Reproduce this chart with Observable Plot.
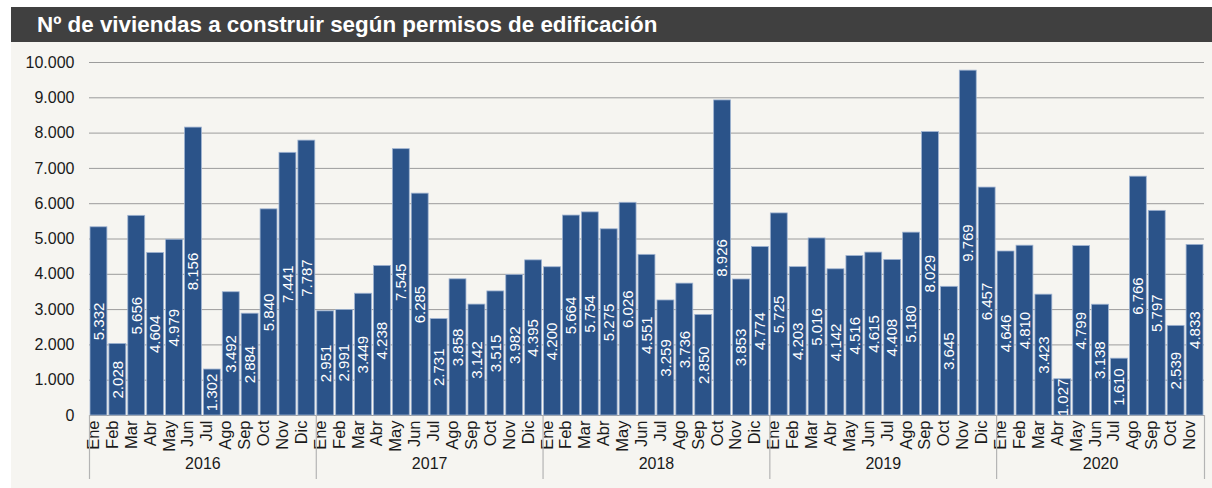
<!DOCTYPE html>
<html>
<head>
<meta charset="utf-8">
<script src="https://cdn.jsdelivr.net/npm/d3@7"></script>
<script src="https://cdn.jsdelivr.net/npm/@observablehq/plot@0.6"></script>
<style>
  html, body { margin: 0; padding: 0; background: #ffffff; }
  body { width: 1212px; height: 488px; overflow: hidden; font-family: "Liberation Sans", Arial, sans-serif; }
  #title { margin: 7px 0 0 11px; width: 1201px; height: 35px; background: #404040; color: #ffffff;
           font-weight: bold; font-size: 22.4px; line-height: 35px; padding-left: 26px; box-sizing: border-box; }
  #chart { margin-left: 11px; width: 1201px; height: 446px; background: #f6f5f1; }
  #chart svg { display: block; }
</style>
</head>
<body>
<div id="title">Nº de viviendas a construir según permisos de edificación</div>
<div id="chart"></div>
<script>
const months = ["Ene","Feb","Mar","Abr","May","Jun","Jul","Ago","Sep","Oct","Nov","Dic"];
const years = [2016, 2017, 2018, 2019, 2020];
const values2016 = [5332, 2028, 5656, 4604, 4979, 8156, 1302, 3492, 2884, 5840, 7441, 7787];
const values2017 = [2951, 2991, 3449, 4238, 7545, 6285, 2731, 3858, 3142, 3515, 3982, 4395];
const values2018 = [4200, 5664, 5754, 5275, 6026, 4551, 3259, 3736, 2850, 8926, 3853, 4774];
const values2019 = [5725, 4203, 5016, 4142, 4516, 4615, 4408, 5180, 8029, 3645, 9769, 6457];
const values2020 = [4646, 4810, 3423, 1027, 4799, 3138, 1610, 6766, 5797, 2539, 4833];
const yTicks = [0, 1000, 2000, 3000, 4000, 5000, 6000, 7000, 8000, 9000, 10000];

const seriesByYear = [values2016, values2017, values2018, values2019, values2020];
const data = [];
const groups = [];
seriesByYear.forEach((vals, k) => {
  const start = data.length;
  vals.forEach((v, m) => data.push({i: data.length, year: years[k], month: months[m], value: v}));
  groups.push({year: years[k], start, end: data.length});
});
const bounds = groups.map(g => g.start).concat([data.length]);

const fmt = d3.formatLocale({decimal: ",", thousands: ".", grouping: [3], currency: ["", ""]}).format(",d");

const chart = Plot.plot({
  width: 1201,
  height: 446,
  marginLeft: 78,
  marginRight: 8,
  marginTop: 20,
  marginBottom: 73,
  style: {background: "transparent", fontFamily: "Liberation Sans, Arial, sans-serif", color: "#1a1a1a"},
  x: {domain: [0, data.length], axis: null},
  y: {domain: [0, 10000], axis: null},
  marks: [
    Plot.ruleY(yTicks, {stroke: "#9c9c9c", strokeWidth: 1}),
    Plot.axisY({ticks: yTicks, tickSize: 0, tickPadding: 15, tickFormat: fmt, fontSize: 16, fill: "#1a1a1a", label: null}),
    Plot.rectY(data, {x1: d => d.i, x2: d => d.i + 1, y: "value", fill: "#2b5389",
                      stroke: "#9fb3d1", strokeWidth: 0.8, insetLeft: 1, insetRight: 1}),
    Plot.text(data, {x: d => d.i + 0.5, y: d => d.value / 2, text: d => fmt(d.value),
                     rotate: -90, fill: "#ffffff", fontSize: 15}),
    Plot.text(data, {x: d => d.i + 0.5, text: "month", frameAnchor: "bottom", dy: 5,
                     rotate: -90, textAnchor: "end", fontSize: 16.5, fill: "#1a1a1a"}),
    Plot.ruleX(bounds, {x: d => d, y1: 0, y2: 0, insetBottom: -64, stroke: "#b4b4b4", strokeWidth: 1.2}),
    Plot.text(groups, {x: d => (d.start + d.end) / 2, text: d => String(d.year), frameAnchor: "bottom",
                       dy: 53, fontSize: 16, fill: "#1a1a1a"})
  ]
});
document.getElementById("chart").appendChild(chart);
</script>
</body>
</html>
